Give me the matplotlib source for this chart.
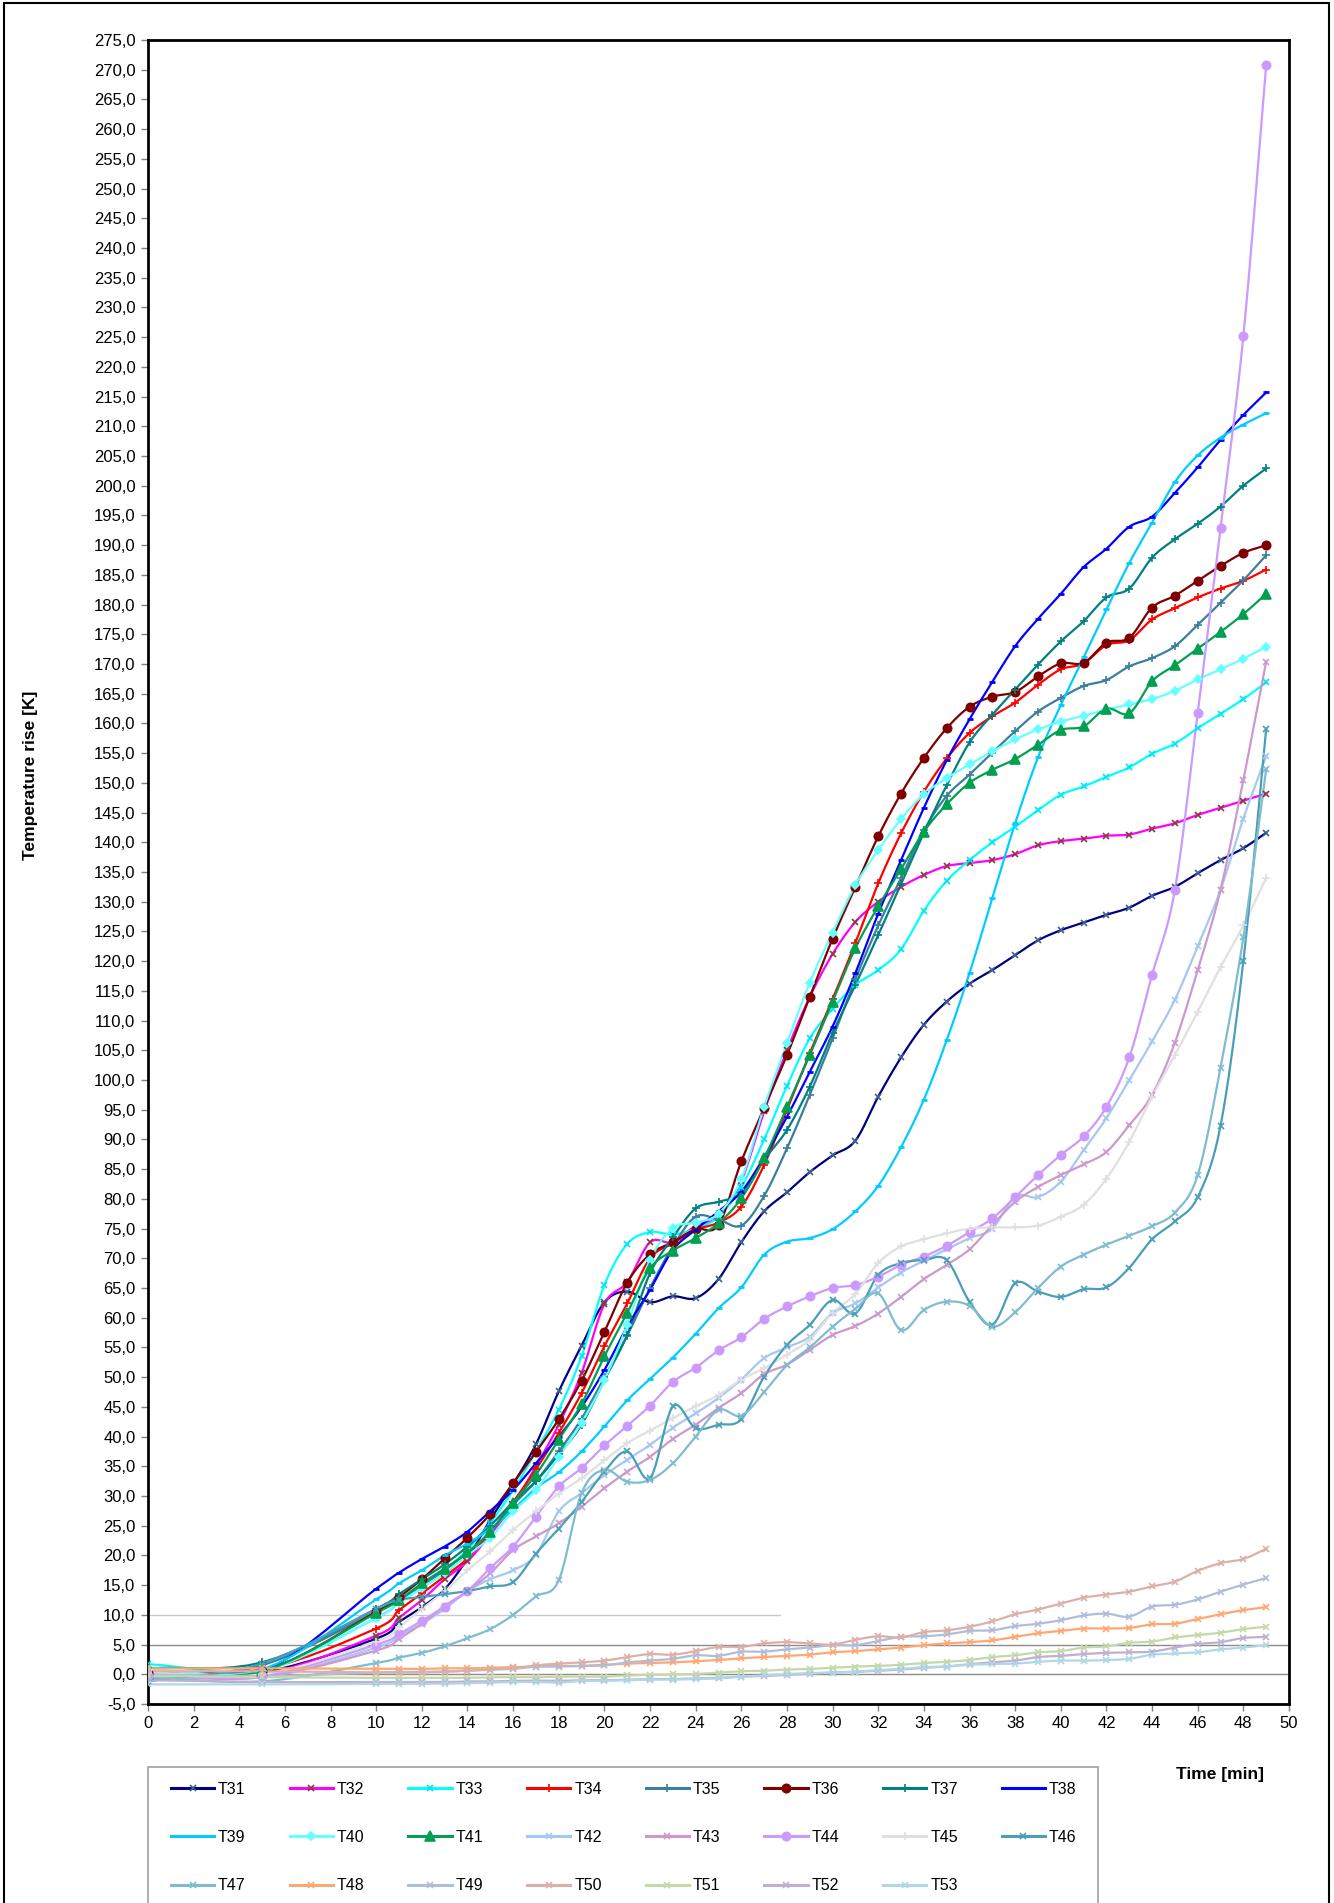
import numpy as np
import matplotlib.pyplot as plt
from matplotlib.lines import Line2D
from matplotlib.patches import Rectangle

plt.rcParams["font.family"] = ["Liberation Sans", "DejaVu Sans"]

# sampling times [min]
minutes = [0, 5, 10, 11, 12, 13, 14, 15, 16, 17, 18, 19, 20, 21, 22, 23, 24, 25, 26, 27, 28, 29,
           30, 31, 32, 33, 34, 35, 36, 37, 38, 39, 40, 41, 42, 43, 44, 45, 46, 47, 48, 49]

t31 = [-0.5, 0.3, 6.0, 8.8, 11.3, 14.3, 19.5, 26.0, 32.0, 38.7, 47.6, 55.3, 62.6, 64.4, 62.6, 63.6,
       63.3, 66.5, 72.7, 77.9, 81.1, 84.5, 87.3, 89.8, 97.2, 103.8, 109.3, 113.2, 116.2, 118.5, 121.0,
       123.5, 125.2, 126.5, 127.8, 129.0, 131.0, 132.5, 134.8, 137.0, 139.0, 141.6]
t32 = [0.3, 0.0, 6.5, 9.5, 12.5, 16.0, 19.0, 23.5, 28.5, 35.0, 42.0, 50.7, 62.3, 66.0, 72.7, 72.7,
       75.5, 77.0, 83.0, 94.7, 105.0, 114.0, 121.2, 126.6, 130.0, 132.5, 134.5, 136.0, 136.5, 137.0,
       138.0, 139.5, 140.2, 140.6, 141.1, 141.3, 142.3, 143.2, 144.6, 145.8, 147.0, 148.2]
t33 = [1.7, 0.8, 9.5, 12.3, 15.0, 17.5, 21.0, 25.5, 31.0, 37.5, 44.5, 53.5, 65.5, 72.4, 74.4, 74.0,
       75.0, 77.0, 82.0, 90.0, 99.0, 107.0, 112.0, 116.0, 118.5, 122.0, 128.5, 133.5, 137.0, 140.0,
       142.6, 145.4, 148.0, 149.4, 151.0, 152.6, 154.9, 156.6, 159.2, 161.6, 164.1, 166.9]
t34 = [0.5, 0.8, 7.7, 10.8, 13.6, 16.5, 19.5, 24.0, 29.0, 34.5, 40.6, 47.3, 55.2, 62.4, 70.0, 72.5,
       74.8, 76.0, 78.7, 85.7, 95.0, 104.5, 113.6, 123.1, 133.1, 141.5, 148.5, 154.1, 158.4, 161.2,
       163.5, 166.5, 169.1, 170.1, 173.2, 174.0, 177.5, 179.4, 181.2, 182.7, 184.0, 185.9]
t35 = [-1.0, 1.5, 10.5, 12.5, 15.0, 17.5, 20.5, 24.0, 28.5, 32.5, 37.5, 43.0, 50.0, 57.0, 65.0, 72.0,
       77.0, 76.5, 75.5, 80.5, 88.5, 97.5, 107.0, 117.0, 126.0, 134.0, 142.0, 147.8, 151.4, 155.1,
       158.7, 162.0, 164.3, 166.3, 167.3, 169.6, 171.0, 173.0, 176.6, 180.3, 184.1, 188.3]
t36 = [0.3, 0.5, 10.5, 13.0, 16.0, 19.5, 23.0, 27.0, 32.2, 37.4, 42.9, 49.4, 57.6, 65.9, 70.7, 72.7,
       74.9, 75.6, 86.3, 95.3, 104.2, 114.0, 123.8, 132.5, 141.0, 148.2, 154.2, 159.2, 162.8, 164.5,
       165.3, 167.9, 170.1, 170.2, 173.6, 174.4, 179.5, 181.5, 184.0, 186.5, 188.7, 190.0]
t37 = [1.0, 2.0, 11.0, 13.5, 16.0, 18.5, 21.5, 25.0, 29.0, 32.5, 37.0, 42.0, 49.5, 57.1, 67.5, 73.5,
       78.4, 79.5, 81.0, 86.6, 91.6, 98.9, 107.9, 116.0, 124.4, 133.0, 141.6, 149.6, 156.8, 161.5,
       165.7, 169.9, 173.8, 177.2, 181.2, 182.7, 187.9, 191.0, 193.6, 196.5, 200.0, 202.9]
t38 = [0.5, 0.5, 14.4, 17.1, 19.4, 21.5, 24.0, 27.5, 31.0, 35.5, 40.0, 45.0, 51.2, 58.5, 64.7, 71.4,
       74.8, 77.9, 81.2, 87.0, 93.8, 101.4, 109.0, 118.0, 128.0, 137.0, 145.8, 153.8, 160.7, 167.0,
       173.0, 177.6, 181.8, 186.3, 189.4, 193.1, 194.8, 198.8, 203.1, 207.7, 211.9, 215.7]
t39 = [0.5, 0.8, 12.6, 15.3, 17.5, 20.0, 22.0, 24.5, 27.7, 31.3, 34.0, 37.5, 41.7, 46.1, 49.7, 53.3,
       57.3, 61.6, 65.1, 70.6, 72.8, 73.4, 74.9, 77.9, 82.2, 88.7, 96.7, 106.7, 118.0, 130.6,
       143.2, 154.3, 163.1, 171.1, 179.2, 187.0, 193.8, 200.6, 205.1, 208.1, 210.3, 212.2]
t40 = [0.8, 0.5, 9.5, 12.0, 14.5, 17.0, 20.0, 23.0, 27.4, 31.0, 36.6, 42.3, 49.5, 58.8, 69.7, 75.1,
       76.0, 77.5, 83.3, 95.5, 106.2, 116.4, 124.8, 132.8, 138.7, 143.9, 148.1, 150.8, 153.1, 155.3,
       157.3, 159.0, 160.3, 161.3, 162.3, 163.2, 164.1, 165.5, 167.4, 169.1, 170.9, 172.9]
t41 = [0.0, 0.5, 10.3, 12.5, 15.3, 17.8, 20.5, 24.0, 28.9, 33.6, 39.5, 45.5, 53.5, 60.8, 68.3, 71.3,
       73.4, 75.9, 80.1, 86.8, 95.5, 104.2, 113.2, 122.2, 129.2, 135.5, 141.8, 146.4, 150.0, 152.2,
       154.0, 156.4, 158.9, 159.5, 162.5, 161.7, 167.1, 169.8, 172.6, 175.4, 178.4, 181.8]
t42 = [0.0, -0.5, 4.5, 6.5, 8.5, 11.0, 14.0, 16.0, 17.5, 20.1, 27.4, 30.5, 33.5, 36.1, 38.6, 41.5,
       43.9, 46.5, 49.6, 53.2, 55.0, 56.8, 60.8, 62.4, 65.1, 67.6, 69.6, 71.5, 73.4, 75.0,
       80.4, 80.3, 82.9, 88.2, 93.6, 100.0, 106.5, 113.5, 122.5, 132.0, 144.0, 154.5]
t43 = [-0.3, -0.5, 4.0, 6.0, 8.5, 11.5, 14.0, 17.0, 20.9, 23.2, 25.4, 28.2, 31.3, 34.1, 36.6, 39.6,
       42.0, 44.8, 47.3, 50.5, 52.1, 54.6, 57.1, 58.6, 60.7, 63.5, 66.5, 68.9, 71.5, 75.6,
       79.5, 82.0, 84.0, 85.8, 87.9, 92.4, 97.5, 106.3, 118.5, 132.0, 150.5, 170.4]
t44 = [-0.3, -0.3, 5.0, 6.8, 9.0, 11.4, 14.0, 17.9, 21.5, 26.5, 31.6, 34.7, 38.5, 41.8, 45.2, 49.2,
       51.6, 54.5, 56.7, 59.8, 61.9, 63.6, 65.0, 65.5, 66.9, 68.9, 70.3, 72.1, 74.4, 76.7,
       80.3, 84.0, 87.4, 90.5, 95.5, 103.8, 117.7, 132.0, 161.8, 192.9, 225.2, 270.8]
t45 = [0.3, 0.0, 5.5, 8.0, 11.0, 14.0, 17.5, 20.7, 24.3, 27.4, 30.4, 33.0, 36.0, 38.9, 41.0, 43.1,
       45.1, 47.0, 49.6, 51.5, 53.8, 56.3, 60.8, 64.0, 69.2, 72.0, 73.2, 74.2, 75.0, 75.2,
       75.2, 75.5, 77.0, 79.0, 83.4, 89.6, 97.2, 104.2, 111.5, 119.0, 126.0, 134.0]
t46 = [-1.2, 1.8, 11.0, 12.5, 13.0, 13.5, 14.0, 14.8, 15.5, 20.3, 24.5, 29.0, 34.1, 37.5, 33.0, 45.1,
       41.4, 42.0, 42.9, 50.1, 55.4, 58.8, 63.0, 60.7, 67.2, 69.2, 69.7, 69.7, 62.7, 58.8,
       65.8, 64.4, 63.5, 64.8, 65.1, 68.4, 73.2, 76.2, 80.3, 92.3, 120.0, 159.1]
t47 = [-0.5, -1.2, 1.9, 2.8, 3.6, 4.7, 6.1, 7.6, 10.0, 13.1, 15.8, 30.5, 34.4, 32.4, 32.7, 35.5,
       40.0, 44.5, 43.5, 47.5, 52.0, 55.0, 58.5, 61.5, 64.1, 57.9, 61.3, 62.7, 62.0, 58.5,
       60.9, 65.0, 68.6, 70.6, 72.3, 73.8, 75.4, 77.7, 84.0, 102.1, 124.0, 152.3]
t48 = [1.0, 1.0, 0.9, 0.9, 0.9, 1.0, 1.0, 1.1, 1.2, 1.3, 1.4, 1.4, 1.6, 1.8, 1.9, 2.0,
       2.2, 2.4, 2.7, 2.9, 3.1, 3.3, 3.7, 3.9, 4.2, 4.5, 4.9, 5.2, 5.4, 5.7,
       6.3, 6.9, 7.3, 7.7, 7.7, 7.8, 8.4, 8.5, 9.3, 10.1, 10.8, 11.3]
t49 = [0.0, -0.3, 0.3, 0.4, 0.4, 0.5, 0.6, 0.8, 0.9, 1.3, 1.3, 1.4, 1.5, 2.0, 2.3, 2.6,
       3.2, 3.1, 3.8, 3.8, 4.2, 4.5, 4.9, 4.9, 5.6, 6.3, 6.4, 6.7, 7.3, 7.4,
       8.1, 8.5, 9.1, 9.9, 10.2, 9.7, 11.4, 11.7, 12.6, 13.9, 15.1, 16.2]
t50 = [0.5, 0.5, 0.3, 0.3, 0.3, 0.4, 0.6, 0.8, 1.0, 1.5, 1.8, 2.0, 2.3, 2.9, 3.4, 3.3,
       3.9, 4.6, 4.6, 5.2, 5.4, 5.2, 5.0, 5.8, 6.4, 6.2, 7.1, 7.4, 8.0, 8.9,
       10.1, 10.9, 11.9, 12.9, 13.4, 13.9, 14.8, 15.6, 17.4, 18.7, 19.4, 21.1]
t51 = [-0.3, -0.5, -0.6, -0.6, -0.6, -0.6, -0.6, -0.5, -0.5, -0.5, -0.4, -0.4, -0.4, -0.2, -0.1, 0.0,
       0.05, 0.3, 0.5, 0.6, 0.8, 0.9, 1.1, 1.3, 1.4, 1.6, 1.9, 2.1, 2.4, 2.9,
       3.2, 3.7, 3.9, 4.5, 4.7, 5.3, 5.5, 6.2, 6.6, 7.0, 7.6, 8.0]
t52 = [-1.0, -1.3, -1.3, -1.3, -1.3, -1.3, -1.2, -1.2, -1.1, -1.1, -1.1, -1.0, -1.0, -0.9, -0.8, -0.8,
       -0.7, -0.6, -0.4, -0.3, -0.1, 0.1, 0.3, 0.4, 0.6, 0.8, 1.1, 1.3, 1.7, 2.0,
       2.3, 2.9, 3.1, 3.4, 3.6, 3.7, 3.8, 4.5, 5.1, 5.4, 6.1, 6.3]
t53 = [-1.7, -1.7, -1.6, -1.6, -1.6, -1.6, -1.5, -1.4, -1.3, -1.3, -1.4, -1.1, -1.1, -1.0, -0.9, -0.9,
       -0.8, -0.7, -0.4, -0.2, 0.05, 0.2, 0.3, 0.45, 0.7, 0.9, 1.2, 1.3, 1.6, 1.7,
       1.8, 2.1, 2.3, 2.3, 2.4, 2.6, 3.3, 3.5, 3.7, 4.2, 4.5, 4.9]

names = ["T31", "T32", "T33", "T34", "T35", "T36", "T37", "T38", "T39", "T40", "T41", "T42",
         "T43", "T44", "T45", "T46", "T47", "T48", "T49", "T50", "T51", "T52", "T53"]
series = [t31, t32, t33, t34, t35, t36, t37, t38, t39, t40, t41, t42,
          t43, t44, t45, t46, t47, t48, t49, t50, t51, t52, t53]

# helper lines of the sheet: level, end of line
ref_levels = [10, 5, 0]
ref_ends = [27.7, 50, 50]

# line colour, marker, marker colour, marker size
styles = [
    ("#000080", "x", "#3f5f8f", 5),
    ("#ff00ff", "x", "#8b3a3a", 5),
    ("#00ffff", "x", "#00e5f0", 5),
    ("#ff0000", "+", "#ff0000", 6),
    ("#3a7f9c", "+", "#3a7f9c", 6),
    ("#800000", "o", "#800000", 6),
    ("#008080", "+", "#008080", 6),
    ("#0000ff", "_", "#0000ff", 5),
    ("#00ccff", "_", "#00ccff", 5),
    ("#66ffff", "D", "#66ffff", 4.5),
    ("#00a050", "^", "#00a050", 6.5),
    ("#a6c8f0", "x", "#a6c8f0", 5),
    ("#cc99cc", "x", "#cc99cc", 5),
    ("#cc99ff", "o", "#cc99ff", 6),
    ("#e0e0e0", "+", "#e0e0e0", 6),
    ("#4a9fb8", "x", "#4a9fb8", 5),
    ("#7fbccf", "x", "#7fbccf", 5),
    ("#fda872", "x", "#fda872", 5),
    ("#b0bcd8", "x", "#b0bcd8", 5),
    ("#dcb0a8", "x", "#dcb0a8", 5),
    ("#c4d8a8", "x", "#c4d8a8", 5),
    ("#bfb0d0", "x", "#bfb0d0", 5),
    ("#b0d8e4", "x", "#b0d8e4", 5),
]


def smooth(x, y, n=8):
    # Catmull-Rom curve through the points, like Excel's "smoothed line"
    p = np.column_stack([x, y]).astype(float)
    p = np.vstack([2 * p[0] - p[1], p, 2 * p[-1] - p[-2]])
    t = np.linspace(0, 1, n, endpoint=False)[:, None]
    segs = []
    for i in range(1, len(p) - 2):
        p0, p1, p2, p3 = p[i - 1], p[i], p[i + 1], p[i + 2]
        segs.append(0.5 * (2 * p1 + (p2 - p0) * t + (2 * p0 - 5 * p1 + 4 * p2 - p3) * t ** 2
                           + (-p0 + 3 * p1 - 3 * p2 + p3) * t ** 3))
    segs.append(p[-2][None])
    out = np.vstack(segs)
    return out[:, 0], out[:, 1]


W, H = 1334, 1903
fig = plt.figure(figsize=(W / 100, H / 100), dpi=100)
ax = fig.add_axes([148 / W, 1 - 1704 / H, 1141 / W, 1664 / H])

ref_colors = ["#c8c8c8", "#8c8c8c", "#8c8c8c"]
for lvl, end, c in zip(ref_levels, ref_ends, ref_colors):
    ax.plot([0, end], [lvl, lvl], color=c, lw=1.0, zorder=1)

handles = []
for name, vals, (c, m, mc, ms) in zip(names, series, styles):
    xs, ys = smooth(minutes, vals)
    ax.plot(xs, ys, color=c, lw=1.6, zorder=2)
    mew = 2.0 if m == "_" else 1.2
    ax.plot(minutes, vals, ls="none", marker=m, ms=ms, mfc=mc, mec=mc, mew=mew, zorder=3)
    handles.append(Line2D([], [], color=c, lw=2.2, marker=m, ms=ms, mfc=mc, mec=mc, mew=mew,
                          label=name))

ax.set_xlim(0, 50)
ax.set_ylim(-5, 275)
ax.set_xticks(np.arange(0, 51, 2))
ax.set_yticks(np.arange(-5, 276, 5))
ax.set_yticklabels([f"{v:.1f}".replace(".", ",") for v in np.arange(-5, 276, 5)], fontsize=12)
ax.set_xticklabels([str(v) for v in np.arange(0, 51, 2)], fontsize=12)
ax.tick_params(direction="out", length=5, width=1, color="#808080", pad=4)
for s in ax.spines.values():
    s.set_linewidth(2)
    s.set_color("black")

fig.text(30 / W, 1 - 775 / H, "Temperature rise [K]", rotation=90, ha="center", va="center",
         fontsize=12.5, fontweight="bold")
fig.text(1220 / W, 1 - 1775 / H, "Time [min]", ha="center", va="center",
         fontsize=12.5, fontweight="bold")

# matplotlib fills legend columns first, so reorder to read row by row
order = [r * 8 + c for c in range(8) for r in range(3) if r * 8 + c < len(handles)]
fig.legend([handles[i] for i in order], [names[i] for i in order],
           loc="upper left", bbox_to_anchor=(171 / W, 1 - 1782 / H), ncol=8,
           fontsize=11.5, handlelength=2.7, handletextpad=0.25, columnspacing=2.75,
           labelspacing=2.07, borderpad=0, borderaxespad=0, frameon=False)
# legend frame, cut off by the lower edge of the picture
fig.patches.append(Rectangle((148 / W, -0.01), 950 / W, (H - 1767) / H + 0.01,
                             transform=fig.transFigure, fill=False, ec="#a0a0a0", lw=1.2))

fig.patches.append(Rectangle((4 / W, -0.01), 1325 / W, 1 - 3 / H + 0.01,
                             transform=fig.transFigure, fill=False, ec="black", lw=1.5))

fig.savefig("out.png", dpi=100)
